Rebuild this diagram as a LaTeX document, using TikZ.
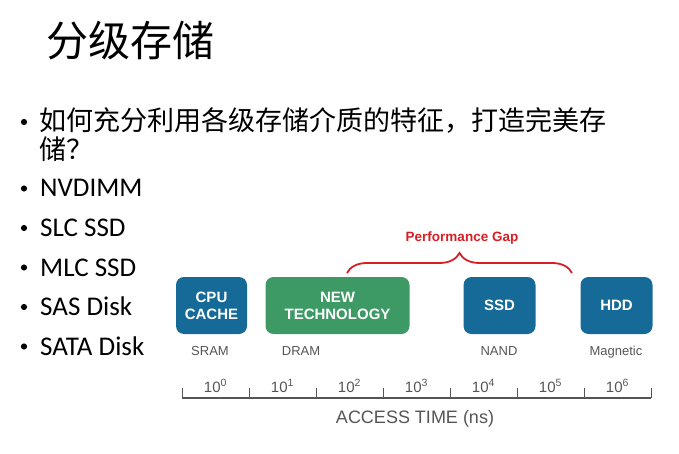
\documentclass[tikz,border=0pt]{standalone}
\usepackage{fontspec}
\setmainfont{Carlito}
\newfontfamily\cjkfont{Noto Sans CJK SC}
\newfontfamily\arialfont{Liberation Sans}
\usepackage{tikz}
\usetikzlibrary{positioning,decorations.pathreplacing}
\definecolor{tierblue}{RGB}{21,106,152}
\definecolor{tiergreen}{RGB}{61,154,101}
\definecolor{gapred}{RGB}{214,30,36}
\definecolor{axisgray}{RGB}{85,85,85}
\tikzset{
  tier/.style={rounded corners=8pt, minimum height=57pt, inner sep=0pt, align=center,
    text=white, font=\arialfont\bfseries\fontsize{15}{17}\selectfont},
  medium/.style={anchor=base, inner sep=0pt, text=axisgray, font=\arialfont\fontsize{13}{15}\selectfont},
  item/.style={anchor=base west, inner sep=0pt, font=\fontsize{27}{30}\selectfont},
  dot/.style={circle, fill, inner sep=0pt, minimum size=6.2pt},
  decade/.style={anchor=base, inner sep=0pt, text=axisgray, font=\arialfont\fontsize{15}{17}\selectfont}
}

\begin{document}
\begin{tikzpicture}[x=1pt,y=-1pt]
  \useasboundingbox (0,0) rectangle (679,454);
  % Title and bullet list
  \node[inner sep=0pt, font=\cjkfont\fontsize{42}{46}\selectfont] (title) at (130,41) {分级存储};
  \node[dot] (q0) at (24,122) {};
  \node[anchor=north west, inner sep=0pt, align=left, font=\cjkfont\fontsize{27}{29}\selectfont]
    (question) at (39,107) {如何充分利用各级存储介质的特征，打造完美存\\储？};
  \foreach \txt [count=\i] in {NVDIMM,SLC SSD,MLC SSD,SAS Disk,SATA Disk}{
    \node[dot] (d\i) at (24,149+39.5*\i) {};
    \node[item] (m\i) at (40,157.5+39.5*\i) {\txt};
  }
  % Storage tiers
  \node[tier, fill=tierblue, minimum width=71pt] (cpu) at (211.5,305.5) {CPU\\CACHE};
  \node[tier, fill=tiergreen, minimum width=144pt] (newtech) at (337.5,305.5) {NEW\\TECHNOLOGY};
  \node[tier, fill=tierblue, minimum width=72pt] (ssd) at (499.5,305.5) {SSD};
  \node[tier, fill=tierblue, minimum width=72pt] (hdd) at (616.5,305.5) {HDD};
  \node[medium] (sram) at (210,355) {SRAM};
  \node[medium] (dram) at (301,355) {DRAM};
  \node[medium] (nand) at (499,355) {NAND};
  \node[medium] (magnetic) at (616,355) {Magnetic};
  % Performance gap brace
  \coordinate (gapL) at (347,273);
  \coordinate (gapR) at (572,273);
  \draw[gapred, line width=1.8pt, decorate, decoration={brace, amplitude=20pt}] (gapL) -- (gapR);
  \node[inner sep=0pt, text=gapred, font=\arialfont\bfseries\fontsize{13.5}{15}\selectfont] (gap) at (462,238) {Performance Gap};
  % Access time axis
  \coordinate (axL) at (182,398);
  \coordinate (axR) at (651,398);
  \draw[axisgray, line width=1.6pt] (axL) -- (axR);
  \foreach \k in {0,...,7}
    \draw[axisgray, line width=0.8pt] (182+67*\k,398) -- ++(0,-10);
  \foreach \k in {0,...,6}
    \node[decade] (e\k) at (215.5+67*\k,392) {10\textsuperscript{\k}};
  \node[anchor=base, inner sep=0pt, text=axisgray, font=\arialfont\fontsize{18}{20}\selectfont] (axis) at (415,423) {ACCESS TIME (ns)};
\end{tikzpicture}
\end{document}
